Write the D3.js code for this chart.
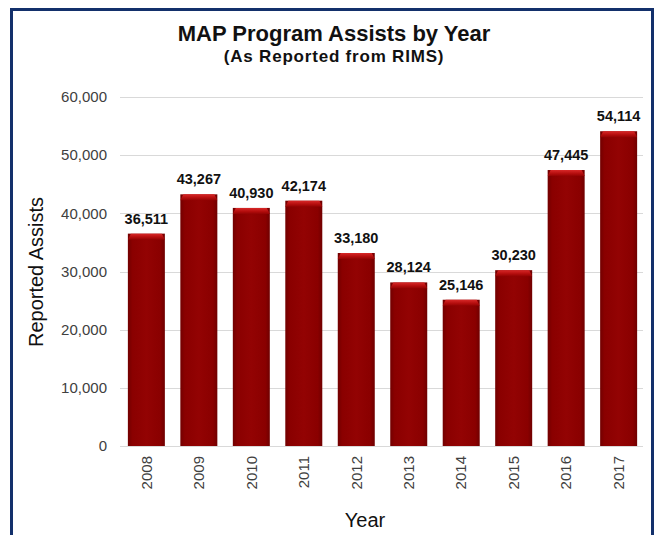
<!DOCTYPE html>
<meta charset="utf-8">
<title>MAP Program Assists by Year</title>
<style>
  body { margin: 0; background: #fff; }
  svg { display: block; font-family: "Liberation Sans", Arial, sans-serif; }
  .grid line { stroke: #d9d9d9; stroke-width: 1; }
  .yaxis text, .xaxis text { font-size: 15px; fill: #404040; }
</style>
<body>
<svg id="chart" width="656" height="535"></svg>
<script src="https://d3js.org/d3.v7.min.js"></script>
<script>
// values
var years = ["2008", "2009", "2010", "2011", "2012", "2013", "2014", "2015", "2016", "2017"];
var assists = [36511, 43267, 40930, 42174, 33180, 28124, 25146, 30230, 47445, 54114];
var yTicks = [0, 10000, 20000, 30000, 40000, 50000, 60000];

var svg = d3.select("#chart");

// outer frame
svg.append("rect")
    .attr("x", 11.5).attr("y", 9.5)
    .attr("width", 641).attr("height", 540)
    .attr("fill", "none")
    .attr("stroke", "#13306b")
    .attr("stroke-width", 3);

var x = d3.scaleBand()
    .domain(years)
    .range([120, 645])
    .paddingInner(0.295)
    .paddingOuter(0.15);

var y = d3.scaleLinear()
    .domain([0, 60000])
    .range([446, 97]);

var fmt = d3.format(",");

// gradients for the shaded bars
var defs = svg.append("defs");
var body = defs.append("linearGradient").attr("id", "barBody")
    .attr("x1", "0").attr("x2", "1").attr("y1", "0").attr("y2", "0");
body.append("stop").attr("offset", "0%").attr("stop-color", "#720000");
body.append("stop").attr("offset", "12%").attr("stop-color", "#8a0000");
body.append("stop").attr("offset", "50%").attr("stop-color", "#930303");
body.append("stop").attr("offset", "88%").attr("stop-color", "#8a0000");
body.append("stop").attr("offset", "100%").attr("stop-color", "#700000");

var cap = defs.append("linearGradient").attr("id", "barCap")
    .attr("x1", "0").attr("x2", "0").attr("y1", "0").attr("y2", "1");
cap.append("stop").attr("offset", "0%").attr("stop-color", "#d82828");
cap.append("stop").attr("offset", "60%").attr("stop-color", "#b30d0d");
cap.append("stop").attr("offset", "100%").attr("stop-color", "#930303");

// gridlines
svg.append("g")
    .attr("class", "grid")
    .selectAll("line")
    .data(yTicks)
    .enter().append("line")
    .attr("x1", 120).attr("x2", 643)
    .attr("y1", function(d) { return Math.round(y(d)) + 0.5; })
    .attr("y2", function(d) { return Math.round(y(d)) + 0.5; });

// y axis labels
svg.append("g")
    .attr("class", "yaxis")
    .attr("transform", "translate(120,0)")
    .call(d3.axisLeft(y).tickValues(yTicks).tickFormat(fmt).tickSize(0).tickPadding(13))
    .call(function(g) { g.select(".domain").remove(); });

// bars
var bars = svg.append("g").selectAll("g")
    .data(years)
    .enter().append("g");

bars.append("rect")
    .attr("x", function(d) { return x(d); })
    .attr("y", function(d, i) { return y(assists[i]); })
    .attr("width", x.bandwidth())
    .attr("height", function(d, i) { return y(0) - y(assists[i]); })
    .attr("fill", "url(#barBody)");

bars.append("path")
    .attr("d", function(d, i) {
      var x0 = x(d), x1 = x(d) + x.bandwidth(), t = y(assists[i]);
      return "M" + x0 + "," + (t + 6) + "L" + (x0 + 3) + "," + t +
             "L" + (x1 - 3) + "," + t + "L" + x1 + "," + (t + 6) + "Z";
    })
    .attr("fill", "url(#barCap)");

// value labels
bars.append("text")
    .attr("x", function(d) { return x(d) + x.bandwidth() / 2; })
    .attr("y", function(d, i) { return y(assists[i]) - 10; })
    .attr("text-anchor", "middle")
    .attr("font-size", "14.5px")
    .attr("font-weight", "bold")
    .attr("fill", "#111")
    .text(function(d, i) { return fmt(assists[i]); });

// x axis labels
svg.append("g")
    .attr("class", "xaxis")
    .attr("transform", "translate(0,446)")
    .call(d3.axisBottom(x).tickSize(0).tickPadding(0))
    .call(function(g) { g.select(".domain").remove(); })
    .selectAll("text")
    .attr("transform", "rotate(-90)")
    .attr("text-anchor", "end")
    .attr("dy", "0.35em")
    .attr("x", -10)
    .attr("y", 0);

// titles
svg.append("text")
    .attr("x", 334).attr("y", 41)
    .attr("text-anchor", "middle")
    .attr("font-size", "22px")
    .attr("font-weight", "bold")
    .attr("fill", "#111")
    .text("MAP Program Assists by Year");

svg.append("text")
    .attr("x", 334).attr("y", 62)
    .attr("text-anchor", "middle")
    .attr("font-size", "17px")
    .attr("font-weight", "bold")
    .attr("letter-spacing", "0.8px")
    .attr("fill", "#111")
    .text("(As Reported from RIMS)");

svg.append("text")
    .attr("transform", "translate(43,272) rotate(-90)")
    .attr("text-anchor", "middle")
    .attr("font-size", "20px")
    .attr("fill", "#111")
    .text("Reported Assists");

svg.append("text")
    .attr("x", 365).attr("y", 527)
    .attr("text-anchor", "middle")
    .attr("font-size", "20px")
    .attr("fill", "#111")
    .text("Year");
</script>
</body>
